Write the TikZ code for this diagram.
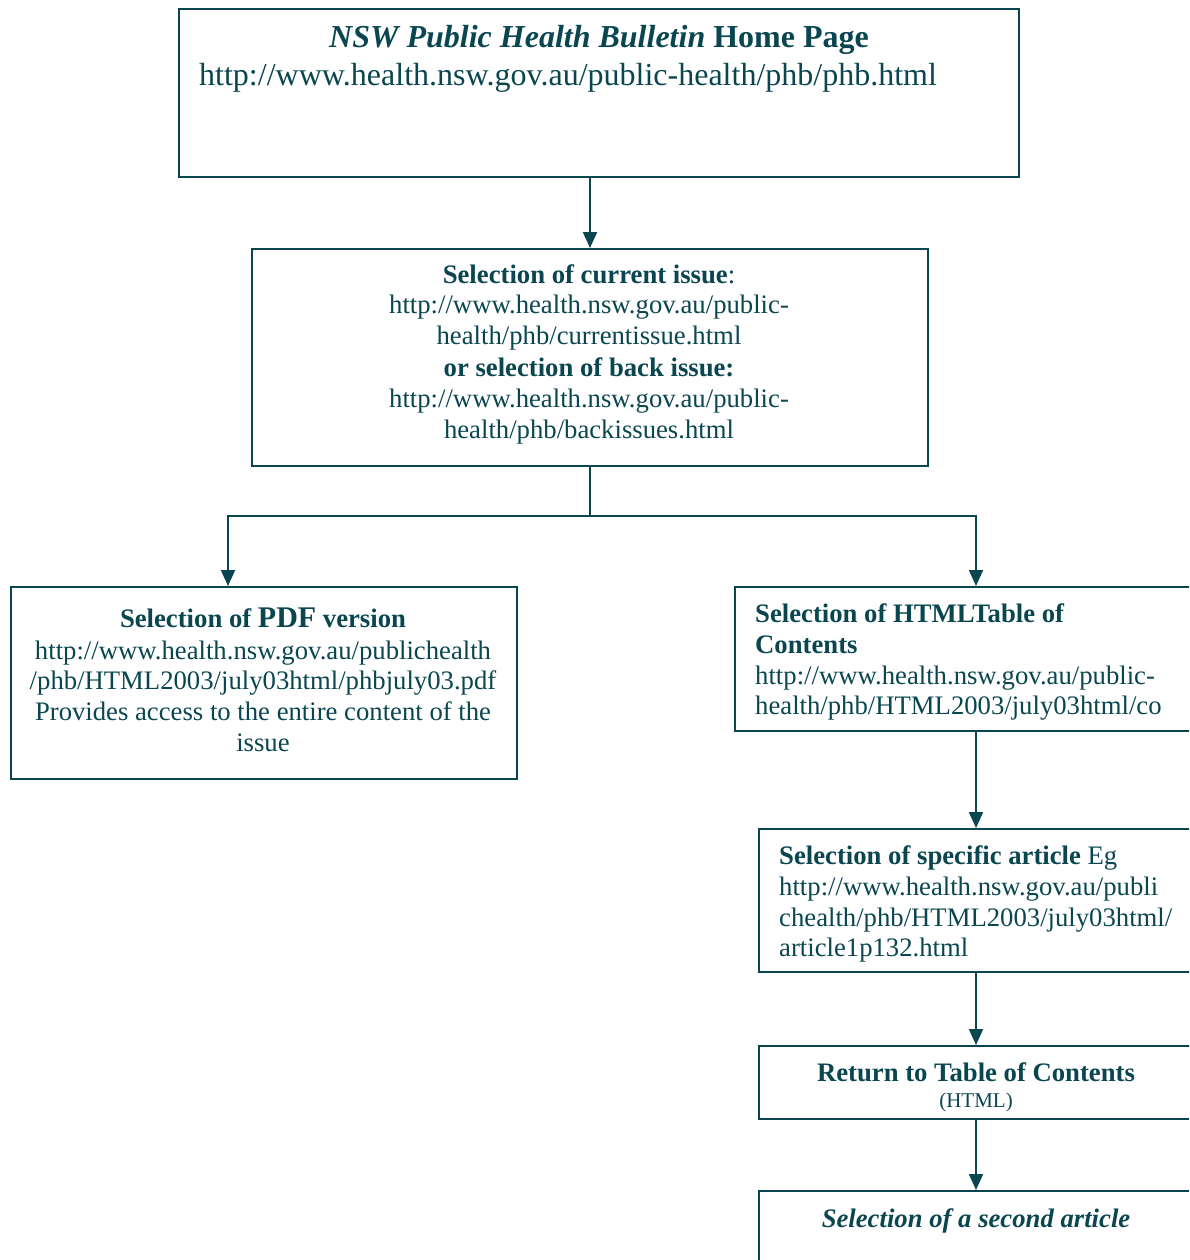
\documentclass[tikz,border=0pt]{standalone}
\usepackage{fontspec}
\setmainfont{Liberation Serif}
\usetikzlibrary{arrows.meta}
\definecolor{teal1}{RGB}{10,70,80}
\tikzset{
  box/.style={draw=teal1, line width=2pt, inner sep=0pt, anchor=north west},
  arr/.style={draw=teal1, line width=2pt, -{Triangle[width=14pt,length=16pt]}},
  ln/.style={draw=teal1, line width=2pt},
  tx/.style={text=teal1, inner sep=0pt, anchor=base, font=\fontsize{26.7}{31}\selectfont},
  txl/.style={tx, anchor=base west},
  big/.style={text=teal1, inner sep=0pt, font=\fontsize{32}{38}\selectfont}
}
\begin{document}
\begin{tikzpicture}[x=1pt,y=-1pt]
\useasboundingbox (0,0) rectangle (1189,1260);
\clip (0,0) rectangle (1189,1260);
% boxes
\node[box, minimum width=840pt, minimum height=168pt] (top) at (178,8) {};
\node[box, minimum width=676pt, minimum height=217pt] (b2) at (251,248) {};
\node[box, minimum width=506pt, minimum height=192pt] (pdf) at (10,586) {};
\node[box, minimum width=482pt, minimum height=144pt] (html) at (734,586) {};
\node[box, minimum width=434pt, minimum height=143pt] (art) at (758,828) {};
\node[box, minimum width=434pt, minimum height=73pt] (ret) at (758,1045) {};
\node[box, minimum width=434pt, minimum height=120pt] (sec) at (758,1190) {};
% texts
\node[big, anchor=base] (t1) at (599,48) {\textbf{\textit{NSW Public Health Bulletin}} \textbf{Home Page}};
\node[big, anchor=base west] (t2) at (199,86) {http://www.health.nsw.gov.au/public-health/phb/phb.html};
\node[tx] (b21) at (589,283) {\textbf{Selection of current issue}:};
\node[tx] (b22) at (589,313) {http://www.health.nsw.gov.au/public-};
\node[tx] (b23) at (589,344) {health/phb/currentissue.html};
\node[tx] (b24) at (589,376) {\textbf{or selection of back issue:}};
\node[tx] (b25) at (589,407) {http://www.health.nsw.gov.au/public-};
\node[tx] (b26) at (589,438) {health/phb/backissues.html};
\node[tx] (p1) at (263,627) {\textbf{Selection of {\fontsize{30}{31}\selectfont PDF} version}};
\node[tx] (p2) at (263,659) {http://www.health.nsw.gov.au/publichealth};
\node[tx] (p3) at (263,689) {/phb/HTML2003/july03html/phbjuly03.pdf};
\node[tx] (p4) at (263,720) {Provides access to the entire content of the};
\node[tx] (p5) at (263,751) {issue};
\node[txl] (h1) at (755,622) {\textbf{Selection of HTMLTable of}};
\node[txl] (h2) at (755,653) {\textbf{Contents}};
\node[txl] (h3) at (755,684) {http://www.health.nsw.gov.au/public-};
\node[txl] (h4) at (755,714) {health/phb/HTML2003/july03html/co};
\node[txl] (a1) at (779,864) {\textbf{Selection of specific article} Eg};
\node[txl] (a2) at (779,895) {http://www.health.nsw.gov.au/publi};
\node[txl] (a3) at (779,926) {chealth/phb/HTML2003/july03html/};
\node[txl] (a4) at (779,956) {article1p132.html};
\node[tx] (r1) at (976,1081) {\textbf{Return to Table of Contents}};
\node[tx, font=\fontsize{21}{23}\selectfont] (r2) at (976,1107) {(HTML)};
\node[tx] (s1) at (976,1227) {\textbf{\textit{Selection of a second article}}};
% connectors
\draw[arr] (b2.north |- top.south) -- (b2.north);
\path (b2.south) ++(0,49) coordinate (split);
\coordinate (pdfin) at (228,586);
\draw[ln] (b2.south) -- (split);
\draw[arr] (split) -| (pdfin);
\draw[arr] (split) -| (html.north);
\draw[arr] (html.south) -- (art.north);
\draw[arr] (art.south) -- (ret.north);
\draw[arr] (ret.south) -- (sec.north);
\end{tikzpicture}
\end{document}
